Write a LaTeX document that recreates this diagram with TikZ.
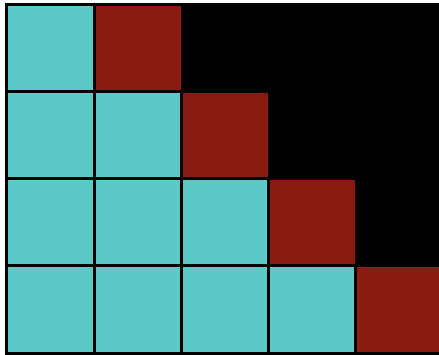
\documentclass[tikz,border=0pt]{standalone}
\definecolor{cellcyan}{RGB}{92,200,200}
\definecolor{cellred}{RGB}{139,26,18}
\tikzset{
  cyancell/.style={fill=cellcyan},
  redcell/.style={fill=cellred},
}
\begin{document}
\begin{tikzpicture}[x=1pt,y=-1pt]
\fill[white] (0,0) rectangle (439,355);
\useasboundingbox (0,0) rectangle (439,355);
\fill[black] (5,3) rectangle (439,355);
\def\xs{{6.5,94.5,181.5,268.5,355.5,441}}
\def\ys{{4.5,91.5,178.5,265.5,353.5}}
\foreach \r in {0,...,3}{
  \foreach \c in {0,...,\r}{
    \pgfmathsetmacro{\xa}{\xs[\c]+1.5}
    \pgfmathsetmacro{\xb}{\xs[\c+1]-1.5}
    \pgfmathsetmacro{\ya}{\ys[\r]+1.5}
    \pgfmathsetmacro{\yb}{\ys[\r+1]-1.5}
    \fill[cyancell] (\xa,\ya) rectangle (\xb,\yb);
  }
  \pgfmathtruncatemacro{\rc}{\r+1}
  \pgfmathsetmacro{\xa}{\xs[\rc]+1.5}
  \pgfmathsetmacro{\xb}{min(\xs[\rc+1]-0.5,439)}
  \pgfmathsetmacro{\ya}{\ys[\r]+1.5}
  \pgfmathsetmacro{\yb}{\ys[\r+1]-1.5}
  \fill[redcell] (\xa,\ya) rectangle (\xb,\yb);
}
\end{tikzpicture}
\end{document}
